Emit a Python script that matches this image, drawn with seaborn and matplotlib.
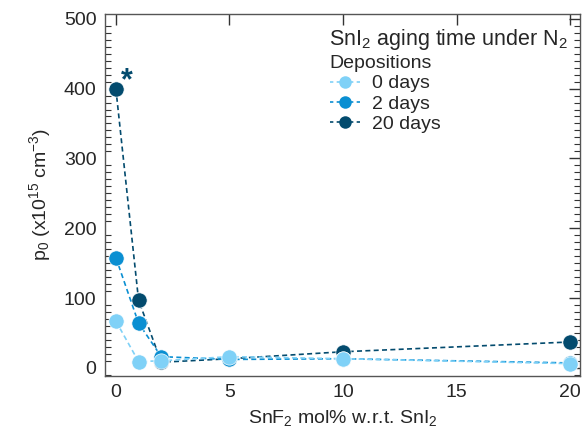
import matplotlib
matplotlib.use("Agg")
import matplotlib.pyplot as plt
import seaborn as sns
import pandas as pd
from matplotlib.lines import Line2D
from matplotlib.ticker import MultipleLocator

sns.set_style("white")
plt.rcParams['font.family'] = ['Liberation Sans', 'DejaVu Sans']
plt.rcParams['mathtext.fontset'] = 'custom'
plt.rcParams['mathtext.rm'] = 'Liberation Sans'
plt.rcParams['mathtext.it'] = 'Liberation Sans'
plt.rcParams['mathtext.default'] = 'regular'

snf2 = [0, 1, 2, 5, 10, 20]
p0_0days = [67, 9, 10, 16, 13, 6]
p0_2days = [158, 64, 16, 12, 13, 7]
p0_20days = [400, 97, 8, 13, 23, 37]
series = ["0 days", "2 days", "20 days"]
colors = ["#7fd1f7", "#0a8fd2", "#034b6e"]
x_ticks = [0, 5, 10, 15, 20]
y_ticks = [0, 100, 200, 300, 400, 500]

df = pd.DataFrame({
    "x": snf2 * 3,
    "p0": p0_0days + p0_2days + p0_20days,
    "aging": [s for s in series for _ in snf2],
})

fig = plt.figure(figsize=(5.83, 4.33), dpi=100)
ax = fig.add_axes([0.180, 0.132, 0.815, 0.836])

palette = dict(zip(series, colors))
sns.lineplot(data=df, x="x", y="p0", hue="aging", hue_order=series[::-1],
             palette=palette,
             marker="o", markersize=11, markeredgewidth=0.5, markeredgecolor="white",
             linestyle=(0, (3, 2)), linewidth=1.2, ax=ax, legend=False, sort=False)

ax.set_xlim(-0.48, 20.44)
ax.set_ylim(-11.5, 507)
ax.set_xticks(x_ticks)
ax.set_yticks(y_ticks)
ax.yaxis.set_minor_locator(MultipleLocator(10))
ax.tick_params(axis="both", which="major", direction="in", length=8, width=1,
               labelsize=14, top=True, right=True, pad=6, color="#333333")
ax.tick_params(axis="y", which="minor", direction="in", length=4, width=0.8,
               left=True, right=True, color="#333333")
for s in ax.spines.values():
    s.set_color("#555555")
    s.set_linewidth(1.0)

ax.set_xlabel("SnF$_2$ mol% w.r.t. SnI$_2$", fontsize=14, labelpad=5)
ax.set_ylabel("p$_0$ (x10$^{15}$ cm$^{-3}$)", fontsize=14, labelpad=8)

ax.text(0.48, 410, "*", color=colors[2], fontsize=22, fontweight="bold",
        ha="center", va="center")

handles = [Line2D([0], [0], color=c, linestyle=(0, (2, 2)), linewidth=1.2,
                  marker="o", markersize=9, markeredgewidth=0) for c in colors]
leg = ax.legend(handles, series, title="Depositions", loc="upper left",
                bbox_to_anchor=(0.444, 0.923), frameon=False, fontsize=14,
                title_fontsize=14, handlelength=1.6, handletextpad=0.6,
                labelspacing=0.13, borderpad=0.2)
leg._legend_box.align = "left"
ax.text(0.4716, 0.928, "SnI$_2$ aging time under N$_2$", transform=ax.transAxes,
        fontsize=15.5, ha="left", va="center")

fig.savefig("out.png", dpi=100)
